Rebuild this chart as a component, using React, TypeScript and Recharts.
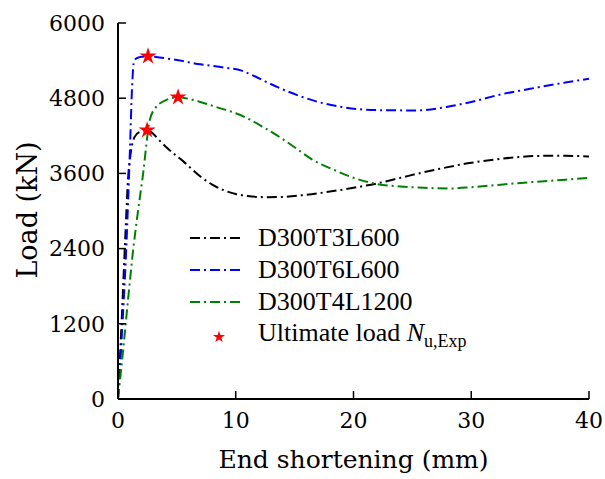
import React from 'react';
import { ComposedChart, Line, Scatter, XAxis, YAxis, ZAxis, Symbols } from 'recharts';

// end shortening (mm) / load (kN)
const t3x = [0, 0.3, 0.6, 0.85, 1.1, 1.4, 1.8, 2.47, 3.0, 3.5, 4.2, 5.5, 7, 8, 9, 10, 11, 12.5, 14, 16, 18, 20, 22, 24, 26, 28, 30, 32, 34, 36, 38, 40];
const t3y = [0, 1200, 2500, 3500, 3950, 4180, 4260, 4290, 4230, 4130, 4000, 3800, 3550, 3420, 3330, 3270, 3240, 3220, 3225, 3260, 3310, 3370, 3440, 3530, 3620, 3700, 3770, 3820, 3860, 3880, 3880, 3870];

const t6x = [0, 0.35, 0.7, 1.0, 1.2, 1.35, 1.6, 2.0, 2.55, 3.5, 5, 7, 9, 10.5, 11.5, 12.7, 14, 15.5, 17, 19, 22, 25.4, 28.2, 30, 32.5, 35, 38, 40];
const t6y = [0, 1100, 2400, 3900, 5000, 5380, 5440, 5460, 5470, 5450, 5410, 5340, 5290, 5240, 5160, 5050, 4940, 4830, 4740, 4660, 4610, 4605, 4670, 4740, 4860, 4950, 5050, 5110];

const t4x = [0, 0.5, 0.85, 1.3, 1.7, 2.1, 2.7, 3.2, 4.2, 5.1, 6, 7, 8.5, 10, 11.2, 12.5, 13.8, 14.9, 16.5, 18.3, 20, 22, 24, 26, 28.2, 30, 32.5, 35, 38, 40];
const t4y = [0, 900, 1580, 2400, 3000, 3550, 4450, 4650, 4780, 4816, 4790, 4740, 4650, 4560, 4460, 4320, 4170, 4030, 3820, 3660, 3530, 3430, 3390, 3370, 3360, 3380, 3420, 3460, 3500, 3530];

const peakX = [2.47, 2.55, 5.1];
const peakY = [4290, 5470, 4816];

const xTicks = [0, 10, 20, 30, 40];
const yTicks = [0, 1200, 2400, 3600, 4800, 6000];

const names = ['D300T3L600', 'D300T6L600', 'D300T4L1200'];
const colors = ['#000000', '#0000ff', '#008000'];

const zip = (xs: number[], ys: number[]) => xs.map((x, i) => ({ x, y: ys[i] }));
const series = [zip(t3x, t3y), zip(t6x, t6y), zip(t4x, t4y)];
const peaks = zip(peakX, peakY);

// svg text only picks up DejaVu Serif here; the html legend gets Times metrics
const svgFont = 'DejaVu Serif';
const htmlFont = 'Liberation Serif, Times New Roman, serif';
const dash = '10 4 2 4';
const axisLine = { stroke: '#000', strokeWidth: 2 };
const tickStyle = { fill: '#000', fontSize: 22, fontFamily: svgFont };

export default function App() {
  return (
    <div style={{ position: 'absolute', left: 0, top: 0, width: 605, height: 479, background: '#fff', fontFamily: htmlFont }}>
      <ComposedChart width={605} height={479} margin={{ top: 23, right: 16, left: 0, bottom: 0 }}>
        <XAxis
          dataKey="x"
          type="number"
          domain={[0, 40]}
          ticks={xTicks}
          height={80}
          axisLine={axisLine}
          tickLine={{ stroke: '#000', strokeWidth: 1.5 }}
          tickSize={-8}
          tickMargin={21}
          tick={tickStyle}
          label={{
            content: () => (
              <text x={353.5} y={468} textAnchor="middle" fontSize={25} fontFamily={svgFont} fill="#000">
                End shortening (mm)
              </text>
            ),
          }}
        />
        <XAxis xAxisId="top" orientation="top" type="number" domain={[0, 40]} height={0} tick={false} tickLine={false} axisLine={axisLine} />
        <YAxis
          type="number"
          domain={[0, 6000]}
          ticks={yTicks}
          width={118}
          axisLine={axisLine}
          tickLine={{ stroke: '#000', strokeWidth: 1.5 }}
          tickSize={-8}
          tickMargin={21}
          tick={tickStyle}
          label={{
            content: () => (
              <text x={37} y={210} transform="rotate(-90 37 210)" textAnchor="middle" fontSize={27} fontFamily={svgFont} fill="#000">
                Load (kN)
              </text>
            ),
          }}
        />
        <YAxis yAxisId="right" orientation="right" type="number" domain={[0, 6000]} width={0} tick={false} tickLine={false} axisLine={axisLine} />
        <ZAxis range={[90, 90]} />
        {series.map((d, i) => (
          <Line
            key={names[i]}
            data={d}
            dataKey="y"
            type="monotone"
            stroke={colors[i]}
            strokeWidth={2}
            strokeDasharray={dash}
            dot={false}
            isAnimationActive={false}
          />
        ))}
        <Scatter data={peaks} dataKey="y" fill="#ff0000" shape="star" isAnimationActive={false} />
      </ComposedChart>
      <div style={{ position: 'absolute', left: 188, top: 222, fontSize: 26, color: '#000' }}>
        {names.map((n, i) => (
          <div key={n} style={{ display: 'flex', alignItems: 'center', height: 32 }}>
            <svg width={56} height={10} style={{ marginRight: 14 }}>
              <line x1={2} y1={5} x2={56} y2={5} stroke={colors[i]} strokeWidth={2} strokeDasharray={dash} />
            </svg>
            <span style={{ lineHeight: '32px' }}>{n}</span>
          </div>
        ))}
        <div style={{ display: 'flex', alignItems: 'center', height: 32, marginTop: 3 }}>
          <svg width={56} height={20} style={{ marginRight: 14 }}>
            <Symbols cx={31} cy={10} type="star" size={45} fill="#ff0000" />
          </svg>
          <span style={{ lineHeight: '32px' }}>
            Ultimate load <i>N</i>
            <sub style={{ fontSize: 18 }}>u,Exp</sub>
          </span>
        </div>
      </div>
    </div>
  );
}
